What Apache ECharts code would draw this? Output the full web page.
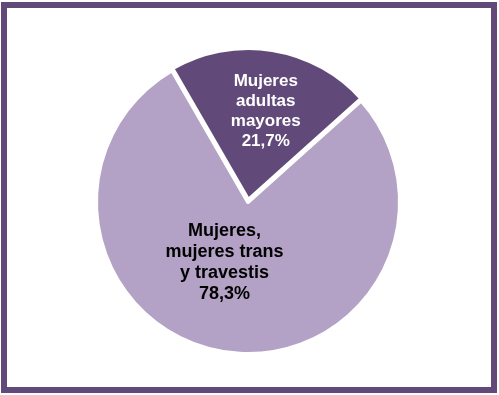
<!DOCTYPE html>
<html><head><meta charset="utf-8">
<script src="https://cdn.jsdelivr.net/npm/echarts@6/dist/echarts.min.js"></script>
<style>html,body{margin:0;padding:0;background:#fff}#c{width:499px;height:395px}</style>
</head><body><div id="c"></div>
<script>
const categories = ['Mujeres\nadultas\nmayores', 'Mujeres,\nmujeres trans\ny travestis'];
const values = [21.7, 78.3];
const colors = ['#614a79', '#b3a2c5'];
const labelColors = ['#ffffff', '#000000'];
const labelSizes = [17, 18];
const labelShift = [[5, -11], [-11, -17]];

const chart = echarts.init(document.getElementById('c'), null, {renderer: 'canvas'});
chart.setOption({
  backgroundColor: '#ffffff',
  animation: false,
  graphic: [{
    type: 'rect',
    shape: {x: 4, y: 5, width: 490, height: 385},
    style: {fill: 'none', stroke: '#614a79', lineWidth: 6}
  }],
  series: [{
    type: 'pie',
    center: [248, 202],
    radius: [0, 152],
    startAngle: 120,
    clockwise: true,
    selectedMode: 'single',
    selectedOffset: 2,
    itemStyle: {borderColor: '#ffffff', borderWidth: 4},
    labelLine: {show: false},
    labelLayout: function (p) {
      return {dx: labelShift[p.dataIndex][0], dy: labelShift[p.dataIndex][1]};
    },
    data: categories.map((name, i) => ({
      name: name,
      value: values[i],
      selected: i === 0,
      itemStyle: {color: colors[i]},
      label: {
        show: true,
        position: 'inside',
        formatter: function (p) { return p.name + '\n' + p.value.toFixed(1).replace('.', ',') + '%'; },
        color: labelColors[i],
        fontFamily: 'Liberation Sans, Arial, sans-serif',
        fontWeight: 'bold',
        fontSize: labelSizes[i],
        lineHeight: i === 0 ? 20 : 21,
        align: 'center'
      }
    }))
  }]
});
</script>
</body></html>
